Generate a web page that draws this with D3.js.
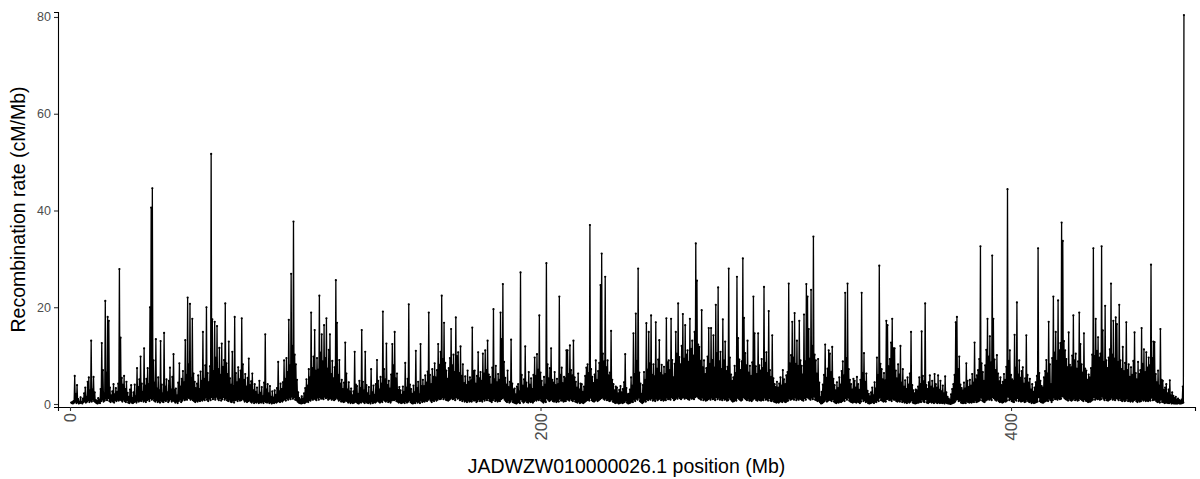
<!DOCTYPE html>
<html><head><meta charset="utf-8">
<script src="https://cdn.jsdelivr.net/npm/d3@7"></script>
<style>body{margin:0;background:#fff}svg{display:block}text{font-family:"Liberation Sans",Arial,Helvetica,sans-serif}</style>
</head><body><svg id="chart" width="1200" height="479"></svg>
<script>
const positionsMb = [
0.5,0.75,1,1.25,1.5,1.75,2,2.25,2.5,2.75,3,3.25,3.5,3.75,4,4.25,4.5,4.75,5,5.25,5.5,5.75,6,6.25,6.5,6.75,7,7.25,7.5,7.75,8,8.25,8.5,8.75,9,9.25,9.5,9.75,10,10.25,
10.5,10.75,11,11.25,11.5,11.75,12,12.25,12.5,12.75,13,13.25,13.5,13.75,14,14.25,14.5,14.75,15,15.25,15.5,15.75,16,16.25,16.5,16.75,17,17.25,17.5,17.75,18,18.25,18.5,18.75,19,19.25,19.5,19.75,20,20.25,
20.5,20.75,21,21.25,21.5,21.75,22,22.25,22.5,22.75,23,23.25,23.5,23.75,24,24.25,24.5,24.75,25,25.25,25.5,25.75,26,26.25,26.5,26.75,27,27.25,27.5,27.75,28,28.25,28.5,28.75,29,29.25,29.5,29.75,30,30.25,
30.5,30.75,31,31.25,31.5,31.75,32,32.25,32.5,32.75,33,33.25,33.5,33.75,34,34.25,34.5,34.75,35,35.25,35.5,35.75,36,36.25,36.5,36.75,37,37.25,37.5,37.75,38,38.25,38.5,38.75,39,39.25,39.5,39.75,40,40.25,
40.5,40.75,41,41.25,41.5,41.75,42,42.25,42.5,42.75,43,43.25,43.5,43.75,44,44.25,44.5,44.75,45,45.25,45.5,45.75,46,46.25,46.5,46.75,47,47.25,47.5,47.75,48,48.25,48.5,48.75,49,49.25,49.5,49.75,50,50.25,
50.5,50.75,51,51.25,51.5,51.75,52,52.25,52.5,52.75,53,53.25,53.5,53.75,54,54.25,54.5,54.75,55,55.25,55.5,55.75,56,56.25,56.5,56.75,57,57.25,57.5,57.75,58,58.25,58.5,58.75,59,59.25,59.5,59.75,60,60.25,
60.5,60.75,61,61.25,61.5,61.75,62,62.25,62.5,62.75,63,63.25,63.5,63.75,64,64.25,64.5,64.75,65,65.25,65.5,65.75,66,66.25,66.5,66.75,67,67.25,67.5,67.75,68,68.25,68.5,68.75,69,69.25,69.5,69.75,70,70.25,
70.5,70.75,71,71.25,71.5,71.75,72,72.25,72.5,72.75,73,73.25,73.5,73.75,74,74.25,74.5,74.75,75,75.25,75.5,75.75,76,76.25,76.5,76.75,77,77.25,77.5,77.75,78,78.25,78.5,78.75,79,79.25,79.5,79.75,80,80.25,
80.5,80.75,81,81.25,81.5,81.75,82,82.25,82.5,82.75,83,83.25,83.5,83.75,84,84.25,84.5,84.75,85,85.25,85.5,85.75,86,86.25,86.5,86.75,87,87.25,87.5,87.75,88,88.25,88.5,88.75,89,89.25,89.5,89.75,90,90.25,
90.5,90.75,91,91.25,91.5,91.75,92,92.25,92.5,92.75,93,93.25,93.5,93.75,94,94.25,94.5,94.75,95,95.25,95.5,95.75,96,96.25,96.5,96.75,97,97.25,97.5,97.75,98,98.25,98.5,98.75,99,99.25,99.5,99.75,100,100.25,
100.5,100.75,101,101.25,101.5,101.75,102,102.25,102.5,102.75,103,103.25,103.5,103.75,104,104.25,104.5,104.75,105,105.25,105.5,105.75,106,106.25,106.5,106.75,107,107.25,107.5,107.75,108,108.25,108.5,108.75,109,109.25,109.5,109.75,110,110.25,
110.5,110.75,111,111.25,111.5,111.75,112,112.25,112.5,112.75,113,113.25,113.5,113.75,114,114.25,114.5,114.75,115,115.25,115.5,115.75,116,116.25,116.5,116.75,117,117.25,117.5,117.75,118,118.25,118.5,118.75,119,119.25,119.5,119.75,120,120.25,
120.5,120.75,121,121.25,121.5,121.75,122,122.25,122.5,122.75,123,123.25,123.5,123.75,124,124.25,124.5,124.75,125,125.25,125.5,125.75,126,126.25,126.5,126.75,127,127.25,127.5,127.75,128,128.25,128.5,128.75,129,129.25,129.5,129.75,130,130.25,
130.5,130.75,131,131.25,131.5,131.75,132,132.25,132.5,132.75,133,133.25,133.5,133.75,134,134.25,134.5,134.75,135,135.25,135.5,135.75,136,136.25,136.5,136.75,137,137.25,137.5,137.75,138,138.25,138.5,138.75,139,139.25,139.5,139.75,140,140.25,
140.5,140.75,141,141.25,141.5,141.75,142,142.25,142.5,142.75,143,143.25,143.5,143.75,144,144.25,144.5,144.75,145,145.25,145.5,145.75,146,146.25,146.5,146.75,147,147.25,147.5,147.75,148,148.25,148.5,148.75,149,149.25,149.5,149.75,150,150.25,
150.5,150.75,151,151.25,151.5,151.75,152,152.25,152.5,152.75,153,153.25,153.5,153.75,154,154.25,154.5,154.75,155,155.25,155.5,155.75,156,156.25,156.5,156.75,157,157.25,157.5,157.75,158,158.25,158.5,158.75,159,159.25,159.5,159.75,160,160.25,
160.5,160.75,161,161.25,161.5,161.75,162,162.25,162.5,162.75,163,163.25,163.5,163.75,164,164.25,164.5,164.75,165,165.25,165.5,165.75,166,166.25,166.5,166.75,167,167.25,167.5,167.75,168,168.25,168.5,168.75,169,169.25,169.5,169.75,170,170.25,
170.5,170.75,171,171.25,171.5,171.75,172,172.25,172.5,172.75,173,173.25,173.5,173.75,174,174.25,174.5,174.75,175,175.25,175.5,175.75,176,176.25,176.5,176.75,177,177.25,177.5,177.75,178,178.25,178.5,178.75,179,179.25,179.5,179.75,180,180.25,
180.5,180.75,181,181.25,181.5,181.75,182,182.25,182.5,182.75,183,183.25,183.5,183.75,184,184.25,184.5,184.75,185,185.25,185.5,185.75,186,186.25,186.5,186.75,187,187.25,187.5,187.75,188,188.25,188.5,188.75,189,189.25,189.5,189.75,190,190.25,
190.5,190.75,191,191.25,191.5,191.75,192,192.25,192.5,192.75,193,193.25,193.5,193.75,194,194.25,194.5,194.75,195,195.25,195.5,195.75,196,196.25,196.5,196.75,197,197.25,197.5,197.75,198,198.25,198.5,198.75,199,199.25,199.5,199.75,200,200.25,
200.5,200.75,201,201.25,201.5,201.75,202,202.25,202.5,202.75,203,203.25,203.5,203.75,204,204.25,204.5,204.75,205,205.25,205.5,205.75,206,206.25,206.5,206.75,207,207.25,207.5,207.75,208,208.25,208.5,208.75,209,209.25,209.5,209.75,210,210.25,
210.5,210.75,211,211.25,211.5,211.75,212,212.25,212.5,212.75,213,213.25,213.5,213.75,214,214.25,214.5,214.75,215,215.25,215.5,215.75,216,216.25,216.5,216.75,217,217.25,217.5,217.75,218,218.25,218.5,218.75,219,219.25,219.5,219.75,220,220.25,
220.5,220.75,221,221.25,221.5,221.75,222,222.25,222.5,222.75,223,223.25,223.5,223.75,224,224.25,224.5,224.75,225,225.25,225.5,225.75,226,226.25,226.5,226.75,227,227.25,227.5,227.75,228,228.25,228.5,228.75,229,229.25,229.5,229.75,230,230.25,
230.5,230.75,231,231.25,231.5,231.75,232,232.25,232.5,232.75,233,233.25,233.5,233.75,234,234.25,234.5,234.75,235,235.25,235.5,235.75,236,236.25,236.5,236.75,237,237.25,237.5,237.75,238,238.25,238.5,238.75,239,239.25,239.5,239.75,240,240.25,
240.5,240.75,241,241.25,241.5,241.75,242,242.25,242.5,242.75,243,243.25,243.5,243.75,244,244.25,244.5,244.75,245,245.25,245.5,245.75,246,246.25,246.5,246.75,247,247.25,247.5,247.75,248,248.25,248.5,248.75,249,249.25,249.5,249.75,250,250.25,
250.5,250.75,251,251.25,251.5,251.75,252,252.25,252.5,252.75,253,253.25,253.5,253.75,254,254.25,254.5,254.75,255,255.25,255.5,255.75,256,256.25,256.5,256.75,257,257.25,257.5,257.75,258,258.25,258.5,258.75,259,259.25,259.5,259.75,260,260.25,
260.5,260.75,261,261.25,261.5,261.75,262,262.25,262.5,262.75,263,263.25,263.5,263.75,264,264.25,264.5,264.75,265,265.25,265.5,265.75,266,266.25,266.5,266.75,267,267.25,267.5,267.75,268,268.25,268.5,268.75,269,269.25,269.5,269.75,270,270.25,
270.5,270.75,271,271.25,271.5,271.75,272,272.25,272.5,272.75,273,273.25,273.5,273.75,274,274.25,274.5,274.75,275,275.25,275.5,275.75,276,276.25,276.5,276.75,277,277.25,277.5,277.75,278,278.25,278.5,278.75,279,279.25,279.5,279.75,280,280.25,
280.5,280.75,281,281.25,281.5,281.75,282,282.25,282.5,282.75,283,283.25,283.5,283.75,284,284.25,284.5,284.75,285,285.25,285.5,285.75,286,286.25,286.5,286.75,287,287.25,287.5,287.75,288,288.25,288.5,288.75,289,289.25,289.5,289.75,290,290.25,
290.5,290.75,291,291.25,291.5,291.75,292,292.25,292.5,292.75,293,293.25,293.5,293.75,294,294.25,294.5,294.75,295,295.25,295.5,295.75,296,296.25,296.5,296.75,297,297.25,297.5,297.75,298,298.25,298.5,298.75,299,299.25,299.5,299.75,300,300.25,
300.5,300.75,301,301.25,301.5,301.75,302,302.25,302.5,302.75,303,303.25,303.5,303.75,304,304.25,304.5,304.75,305,305.25,305.5,305.75,306,306.25,306.5,306.75,307,307.25,307.5,307.75,308,308.25,308.5,308.75,309,309.25,309.5,309.75,310,310.25,
310.5,310.75,311,311.25,311.5,311.75,312,312.25,312.5,312.75,313,313.25,313.5,313.75,314,314.25,314.5,314.75,315,315.25,315.5,315.75,316,316.25,316.5,316.75,317,317.25,317.5,317.75,318,318.25,318.5,318.75,319,319.25,319.5,319.75,320,320.25,
320.5,320.75,321,321.25,321.5,321.75,322,322.25,322.5,322.75,323,323.25,323.5,323.75,324,324.25,324.5,324.75,325,325.25,325.5,325.75,326,326.25,326.5,326.75,327,327.25,327.5,327.75,328,328.25,328.5,328.75,329,329.25,329.5,329.75,330,330.25,
330.5,330.75,331,331.25,331.5,331.75,332,332.25,332.5,332.75,333,333.25,333.5,333.75,334,334.25,334.5,334.75,335,335.25,335.5,335.75,336,336.25,336.5,336.75,337,337.25,337.5,337.75,338,338.25,338.5,338.75,339,339.25,339.5,339.75,340,340.25,
340.5,340.75,341,341.25,341.5,341.75,342,342.25,342.5,342.75,343,343.25,343.5,343.75,344,344.25,344.5,344.75,345,345.25,345.5,345.75,346,346.25,346.5,346.75,347,347.25,347.5,347.75,348,348.25,348.5,348.75,349,349.25,349.5,349.75,350,350.25,
350.5,350.75,351,351.25,351.5,351.75,352,352.25,352.5,352.75,353,353.25,353.5,353.75,354,354.25,354.5,354.75,355,355.25,355.5,355.75,356,356.25,356.5,356.75,357,357.25,357.5,357.75,358,358.25,358.5,358.75,359,359.25,359.5,359.75,360,360.25,
360.5,360.75,361,361.25,361.5,361.75,362,362.25,362.5,362.75,363,363.25,363.5,363.75,364,364.25,364.5,364.75,365,365.25,365.5,365.75,366,366.25,366.5,366.75,367,367.25,367.5,367.75,368,368.25,368.5,368.75,369,369.25,369.5,369.75,370,370.25,
370.5,370.75,371,371.25,371.5,371.75,372,372.25,372.5,372.75,373,373.25,373.5,373.75,374,374.25,374.5,374.75,375,375.25,375.5,375.75,376,376.25,376.5,376.75,377,377.25,377.5,377.75,378,378.25,378.5,378.75,379,379.25,379.5,379.75,380,380.25,
380.5,380.75,381,381.25,381.5,381.75,382,382.25,382.5,382.75,383,383.25,383.5,383.75,384,384.25,384.5,384.75,385,385.25,385.5,385.75,386,386.25,386.5,386.75,387,387.25,387.5,387.75,388,388.25,388.5,388.75,389,389.25,389.5,389.75,390,390.25,
390.5,390.75,391,391.25,391.5,391.75,392,392.25,392.5,392.75,393,393.25,393.5,393.75,394,394.25,394.5,394.75,395,395.25,395.5,395.75,396,396.25,396.5,396.75,397,397.25,397.5,397.75,398,398.25,398.5,398.75,399,399.25,399.5,399.75,400,400.25,
400.5,400.75,401,401.25,401.5,401.75,402,402.25,402.5,402.75,403,403.25,403.5,403.75,404,404.25,404.5,404.75,405,405.25,405.5,405.75,406,406.25,406.5,406.75,407,407.25,407.5,407.75,408,408.25,408.5,408.75,409,409.25,409.5,409.75,410,410.25,
410.5,410.75,411,411.25,411.5,411.75,412,412.25,412.5,412.75,413,413.25,413.5,413.75,414,414.25,414.5,414.75,415,415.25,415.5,415.75,416,416.25,416.5,416.75,417,417.25,417.5,417.75,418,418.25,418.5,418.75,419,419.25,419.5,419.75,420,420.25,
420.5,420.75,421,421.25,421.5,421.75,422,422.25,422.5,422.75,423,423.25,423.5,423.75,424,424.25,424.5,424.75,425,425.25,425.5,425.75,426,426.25,426.5,426.75,427,427.25,427.5,427.75,428,428.25,428.5,428.75,429,429.25,429.5,429.75,430,430.25,
430.5,430.75,431,431.25,431.5,431.75,432,432.25,432.5,432.75,433,433.25,433.5,433.75,434,434.25,434.5,434.75,435,435.25,435.5,435.75,436,436.25,436.5,436.75,437,437.25,437.5,437.75,438,438.25,438.5,438.75,439,439.25,439.5,439.75,440,440.25,
440.5,440.75,441,441.25,441.5,441.75,442,442.25,442.5,442.75,443,443.25,443.5,443.75,444,444.25,444.5,444.75,445,445.25,445.5,445.75,446,446.25,446.5,446.75,447,447.25,447.5,447.75,448,448.25,448.5,448.75,449,449.25,449.5,449.75,450,450.25,
450.5,450.75,451,451.25,451.5,451.75,452,452.25,452.5,452.75,453,453.25,453.5,453.75,454,454.25,454.5,454.75,455,455.25,455.5,455.75,456,456.25,456.5,456.75,457,457.25,457.5,457.75,458,458.25,458.5,458.75,459,459.25,459.5,459.75,460,460.25,
460.5,460.75,461,461.25,461.5,461.75,462,462.25,462.5,462.75,463,463.25,463.5,463.75,464,464.25,464.5,464.75,465,465.25,465.5,465.75,466,466.25,466.5,466.75,467,467.25,467.5,467.75,468,468.25,468.5,468.75,469,469.25,469.5,469.75,470,470.25,
470.5,470.75,471,471.25,471.5,471.75,472,472.25,472.5,472.75,473,473.25,473.5
];
const recombRate = [
0.3,0.2,0.4,0.1,0.6,0.3,5.8,0.5,2.1,0.2,3.9,0.4,1.0,0.1,0.5,0.2,1.4,0.3,0.4,0.1,1.1,0.4,2.2,0.6,3.4,0.3,1.5,0.5,4.6,0.8,5.5,0.4,2.8,0.7,13.1,0.5,3.0,0.9,5.6,0.6,
2.4,0.4,0.8,0.2,0.6,0.1,1.2,0.3,0.9,0.2,3.1,0.6,12.6,0.9,7.0,0.5,2.2,0.7,21.3,1.1,6.5,0.8,18.0,1.2,17.2,0.6,3.4,0.4,1.8,0.7,2.6,0.5,4.1,0.3,2.0,0.8,3.3,0.6,2.5,0.9,
4.2,0.7,27.9,1.0,13.7,0.8,5.4,0.5,4.0,0.9,5.8,0.6,3.1,0.4,4.6,0.8,2.3,0.3,1.5,0.2,3.0,0.5,3.9,0.3,1.2,0.2,2.4,0.4,4.0,0.6,1.6,0.3,7.4,0.7,3.5,0.5,5.1,0.8,9.8,0.6,
4.2,0.9,2.5,0.5,11.5,0.7,3.8,0.4,5.2,0.8,7.4,1.0,4.1,0.6,20.0,1.2,40.6,0.9,44.6,1.1,9.0,0.7,4.4,0.5,13.4,0.8,3.2,0.4,5.5,0.6,2.8,0.3,13.0,0.7,4.0,0.5,2.2,0.4,14.7,0.8,
3.6,0.6,5.1,0.9,2.4,0.4,4.8,0.7,7.5,1.0,3.0,0.5,5.6,0.8,10.3,0.6,2.9,0.3,3.2,0.5,1.8,0.2,4.4,0.6,8.4,0.9,3.6,0.4,5.2,0.7,6.8,1.1,4.5,0.8,13.2,1.0,6.0,0.9,22.0,1.3,
8.2,1.2,20.7,0.9,5.4,1.1,17.6,0.8,6.3,0.6,4.6,0.4,3.3,0.7,4.2,0.5,5.9,0.8,3.1,0.6,6.7,0.9,4.8,0.7,14.9,1.0,5.2,0.8,8.0,1.3,20.0,0.9,6.4,0.6,4.5,1.1,7.8,0.8,51.7,1.4,
17.5,1.0,6.8,1.3,17.0,0.9,9.6,1.5,16.1,1.1,7.2,0.8,11.6,1.2,6.0,0.7,12.5,1.0,7.7,1.4,9.1,0.9,20.8,1.2,8.4,0.8,6.2,0.6,12.9,0.9,5.3,0.5,4.0,0.4,10.8,0.7,3.7,0.3,18.0,0.8,
6.4,0.9,4.5,0.6,7.6,1.0,5.1,0.7,6.9,0.8,17.7,1.1,8.2,0.9,5.0,0.5,6.2,0.7,3.6,0.4,5.4,0.6,9.4,0.8,3.9,0.5,4.7,0.3,6.3,0.6,2.8,0.2,4.1,0.4,2.5,0.3,3.4,0.5,1.9,0.2,
4.8,0.4,2.3,0.3,3.5,0.5,1.6,0.2,4.4,0.6,14.4,0.4,3.0,0.3,4.1,0.5,2.2,0.2,3.7,0.4,1.5,0.1,2.6,0.3,1.3,0.2,2.8,0.4,1.9,0.3,3.3,0.5,8.7,0.6,2.6,0.4,4.2,0.7,3.1,0.5,
4.5,0.8,9.0,1.0,5.2,0.7,9.5,1.2,6.6,0.9,17.4,1.3,8.0,1.0,26.9,1.5,12.0,1.1,37.7,1.4,10.2,0.9,8.2,0.8,5.0,0.5,2.4,0.3,1.2,0.2,0.9,0.1,1.6,0.2,1.1,0.3,2.2,0.2,3.3,0.4,
5.1,0.6,3.8,0.4,7.2,0.8,5.5,0.7,18.9,1.1,7.4,0.9,9.8,1.2,15.3,1.0,6.9,0.8,9.5,1.3,7.1,0.9,22.4,1.4,10.6,1.1,14.4,1.2,8.8,1.0,16.3,1.5,9.5,1.2,17.7,1.3,7.3,0.9,11.2,1.1,
14.4,1.2,6.2,0.9,8.9,1.1,5.3,0.8,7.6,1.0,25.6,1.3,16.8,1.1,6.0,0.7,9.1,0.9,4.2,0.5,5.0,0.6,3.1,0.4,4.4,0.5,12.7,0.8,6.3,0.6,3.0,0.3,4.5,0.5,2.6,0.2,3.2,0.4,1.8,0.2,
2.6,0.3,10.8,0.5,4.0,0.4,3.7,0.2,2.1,0.1,4.8,0.4,3.3,0.3,15.3,0.6,4.6,0.4,2.8,0.2,10.8,0.5,3.9,0.3,2.2,0.2,3.5,0.4,1.7,0.1,7.2,0.5,2.4,0.2,3.8,0.4,1.9,0.3,4.1,0.5,
9.1,0.7,4.8,0.5,3.0,0.3,5.6,0.6,4.2,0.4,19.1,0.9,7.2,0.7,5.1,0.5,12.5,0.8,3.9,0.4,4.8,0.6,3.2,0.3,6.1,0.7,12.4,0.9,8.0,0.8,14.9,1.0,5.3,0.6,6.3,0.5,2.9,0.3,3.5,0.4,
2.8,0.2,1.9,0.3,3.6,0.4,2.5,0.2,8.5,0.6,3.4,0.3,5.2,0.5,20.6,0.8,4.0,0.4,3.1,0.2,2.1,0.1,3.8,0.3,2.4,0.2,11.0,0.6,3.3,0.3,4.6,0.5,2.0,0.2,12.4,0.7,3.7,0.4,5.0,0.6,
3.7,0.5,5.9,0.8,4.4,0.6,6.7,0.9,18.9,1.1,6.0,0.7,4.1,0.4,7.2,0.8,5.6,0.6,8.4,1.0,5.5,0.7,7.0,0.9,12.4,1.2,8.1,1.0,10.8,1.1,22.4,1.4,9.3,1.0,16.8,1.3,8.5,0.9,6.9,0.8,
5.2,0.7,7.4,0.9,9.5,1.1,15.5,1.3,8.0,1.0,10.2,1.2,6.6,0.8,17.9,1.4,9.9,1.1,10.7,1.2,6.4,0.8,11.9,1.0,5.8,0.6,8.2,0.9,4.3,0.5,5.7,0.7,3.9,0.4,6.9,0.8,4.6,0.5,5.5,0.6,
4.9,0.5,15.8,0.9,6.8,0.7,6.9,0.8,4.2,0.4,5.8,0.6,10.7,1.0,5.3,0.6,6.6,0.8,4.8,0.5,10.4,1.0,6.3,0.7,11.1,1.1,7.0,0.8,13.1,1.2,6.1,0.7,5.6,0.6,4.0,0.4,7.5,0.8,19.6,1.1,
5.1,0.6,7.9,0.8,4.5,0.5,6.2,0.7,5.0,0.6,18.9,1.0,13.4,1.2,24.8,1.3,8.7,0.9,5.4,0.6,4.0,0.4,6.9,0.7,3.5,0.3,4.6,0.5,13.3,0.9,4.2,0.4,3.0,0.3,3.2,0.2,2.0,0.1,3.6,0.3,
4.1,0.4,2.6,0.2,27.2,1.0,6.0,0.6,3.8,0.3,5.1,0.5,11.9,0.8,4.4,0.4,3.2,0.3,6.6,0.6,4.0,0.4,5.3,0.5,3.1,0.3,6.0,0.6,9.6,0.9,5.8,0.7,10.3,1.0,7.1,0.8,18.3,1.1,6.5,0.7,
4.8,0.5,3.5,0.3,5.6,0.6,4.0,0.4,29.1,1.2,8.2,0.9,5.3,0.6,7.4,0.8,11.5,1.0,5.0,0.6,4.4,0.5,6.6,0.7,3.9,0.4,5.2,0.6,4.1,0.5,22.2,1.1,6.0,0.7,7.5,0.8,4.3,0.5,5.6,0.6,
5.3,0.6,11.1,1.0,11.1,0.9,6.2,0.7,12.1,1.1,7.0,0.8,5.9,0.6,13.1,1.0,5.5,0.5,4.6,0.4,3.4,0.3,6.3,0.6,3.0,0.2,4.2,0.4,4.1,0.3,2.5,0.2,3.6,0.4,5.8,0.6,7.5,0.8,8.2,0.9,
6.4,0.7,37.0,1.3,7.2,0.8,5.6,0.6,4.3,0.5,6.1,0.7,9.0,0.9,5.0,0.6,6.8,0.8,8.5,1.0,24.6,1.2,31.1,1.4,10.4,1.1,8.8,0.9,26.3,1.2,7.6,0.8,9.0,0.9,5.9,0.6,6.5,0.7,15.1,1.0,
5.0,0.5,4.1,0.4,2.8,0.2,3.6,0.3,3.4,0.3,2.2,0.1,2.9,0.2,3.7,0.4,2.4,0.2,3.1,0.3,4.5,0.4,10.3,0.7,3.3,0.3,2.0,0.1,2.1,0.2,3.0,0.3,5.5,0.5,3.8,0.4,14.6,0.9,6.2,0.6,
18.7,1.1,8.9,0.9,28.0,1.3,6.5,0.6,4.2,0.4,2.1,0.2,3.9,0.4,6.6,0.7,5.0,0.5,16.7,1.0,7.1,0.8,14.9,1.1,8.4,0.9,18.3,1.2,6.0,0.7,8.2,0.9,5.7,0.6,16.9,1.1,7.3,0.8,9.2,1.0,
13.2,1.2,6.4,0.8,8.1,1.0,5.9,0.7,7.7,0.9,6.2,0.8,17.7,1.3,8.6,1.0,9.0,1.1,7.0,0.9,17.6,1.4,9.1,1.2,5.5,0.8,8.3,1.0,14.9,1.3,10.4,1.1,20.8,1.5,9.7,1.2,8.2,1.0,12.0,1.3,
18.6,1.4,9.4,1.1,16.3,1.3,10.2,1.2,11.1,1.0,8.7,0.9,17.6,1.3,11.4,1.1,13.1,1.2,10.0,1.0,14.9,1.4,33.2,1.6,25.5,1.5,12.3,1.2,11.8,1.1,8.9,0.9,19.4,1.3,7.6,0.8,9.0,1.0,6.2,0.7,
7.4,0.8,9.8,1.0,15.7,1.2,8.3,0.9,15.7,1.3,9.1,1.0,14.2,1.1,7.5,0.8,20.5,1.4,10.5,1.0,24.1,1.3,8.8,0.9,10.8,1.1,7.2,0.8,17.5,1.2,9.0,0.9,12.9,1.0,6.8,0.7,7.7,0.8,28.0,1.3,
9.6,1.0,6.1,0.7,4.8,0.5,5.5,0.6,7.9,0.8,6.4,0.7,26.3,1.3,13.6,1.1,9.2,0.9,7.0,0.7,8.8,0.9,30.1,1.4,17.8,1.2,10.5,1.0,8.0,0.8,13.1,1.1,6.5,0.7,7.9,0.8,5.8,0.6,8.6,0.9,
22.2,1.2,14.6,1.1,7.8,0.8,6.2,0.7,14.6,1.0,8.0,0.8,6.9,0.7,9.3,0.9,7.4,0.8,24.2,1.3,8.5,0.9,10.7,1.0,6.4,0.7,19.2,1.2,7.0,0.7,5.6,0.6,14.2,0.9,5.3,0.5,4.1,0.4,3.5,0.3,
4.6,0.4,3.4,0.3,4.2,0.5,5.5,0.6,3.8,0.4,7.0,0.7,5.1,0.5,4.1,0.4,5.9,0.6,6.6,0.7,24.9,1.2,8.4,0.9,10.1,1.0,17.0,1.2,9.6,0.9,18.8,1.3,8.3,0.8,13.1,1.1,7.9,0.9,17.2,1.2,
9.0,1.0,7.9,0.8,6.1,0.7,18.5,1.2,8.8,0.9,24.8,1.4,22.2,1.3,15.5,1.1,9.4,0.9,23.6,1.3,12.0,1.0,34.6,1.5,10.2,0.9,9.0,0.8,6.3,0.6,9.3,0.7,4.4,0.4,1.4,0.1,2.5,0.2,4.0,0.4,
6.0,0.6,12.3,0.9,5.4,0.5,7.3,0.7,11.1,0.9,10.4,0.8,6.6,0.6,11.8,1.0,5.2,0.5,3.9,0.3,2.8,0.2,4.5,0.4,3.3,0.3,5.5,0.5,4.0,0.4,6.8,0.6,8.8,0.8,5.9,0.6,23.0,1.2,9.5,0.9,
24.9,1.3,7.2,0.7,5.0,0.5,4.1,0.4,3.0,0.3,5.2,0.5,4.8,0.4,3.4,0.3,5.6,0.5,4.1,0.4,2.9,0.2,5.0,0.5,23.0,1.1,6.4,0.6,10.5,0.8,4.6,0.4,6.3,0.5,2.7,0.2,2.1,0.1,1.6,0.2,
2.4,0.3,3.4,0.4,1.8,0.2,4.5,0.5,3.2,0.4,9.6,0.8,6.0,0.6,28.6,1.3,8.3,0.8,7.2,0.7,5.1,0.5,6.4,0.6,4.9,0.5,17.2,1.0,16.3,1.1,7.8,0.8,9.3,0.9,12.7,0.6,17.6,1.1,11.5,0.9,
11.5,0.9,6.9,0.6,5.3,0.5,8.2,0.7,6.1,0.5,12.0,0.9,4.4,0.4,7.2,0.6,3.6,0.3,4.9,0.4,3.1,0.2,5.5,0.5,4.0,0.3,6.3,0.5,14.9,0.8,3.9,0.3,2.8,0.2,2.2,0.1,3.0,0.2,2.8,0.3,
3.6,0.3,5.5,0.5,4.1,0.4,15.0,0.9,5.8,0.5,4.7,0.4,20.8,1.0,3.9,0.3,3.1,0.2,4.5,0.4,5.9,0.5,3.6,0.3,4.8,0.4,3.2,0.2,6.2,0.5,4.1,0.3,3.4,0.2,5.9,0.4,2.9,0.2,4.8,0.3,
2.6,0.2,3.8,0.3,2.2,0.1,5.7,0.4,2.4,0.2,1.5,0.1,1.1,0.1,0.8,0.0,2.0,0.1,3.1,0.2,4.1,0.3,6.0,0.5,16.9,0.9,18.0,1.0,7.2,0.6,9.8,0.7,4.0,0.3,3.3,0.2,2.8,0.2,4.4,0.3,
3.2,0.2,8.4,0.6,4.8,0.4,3.5,0.3,5.0,0.4,3.8,0.3,6.2,0.5,4.4,0.4,12.7,0.8,5.1,0.4,5.9,0.5,7.0,0.6,9.3,0.8,32.6,1.3,8.4,0.7,6.6,0.5,4.8,0.4,8.0,0.7,11.2,0.9,17.6,1.1,
9.8,0.9,14.0,1.1,8.6,0.8,30.7,1.4,17.6,1.2,9.2,0.9,7.0,0.7,10.1,0.9,6.3,0.6,4.7,0.4,5.5,0.5,3.9,0.3,4.6,0.4,6.2,0.6,5.0,0.5,7.7,0.7,44.4,1.5,8.9,0.8,11.1,1.0,6.0,0.6,
5.1,0.5,4.8,0.4,14.3,0.9,7.5,0.7,21.0,1.2,6.1,0.6,9.0,0.8,5.4,0.5,6.8,0.6,7.6,0.7,4.2,0.4,5.3,0.5,14.2,0.9,6.0,0.6,4.4,0.4,5.2,0.5,3.0,0.2,4.1,0.4,2.5,0.2,3.4,0.3,
4.5,0.4,5.8,0.5,32.2,1.4,6.4,0.6,4.8,0.4,3.7,0.3,3.4,0.3,5.5,0.5,6.8,0.6,9.1,0.8,6.3,0.6,17.0,1.1,8.2,0.8,4.1,0.4,9.5,0.8,22.2,1.3,10.6,1.0,14.9,1.1,8.9,0.9,21.4,1.2,
11.1,1.0,12.6,1.1,37.5,1.6,33.7,1.5,13.0,1.2,11.1,1.0,9.3,0.9,7.6,0.7,14.8,1.1,8.1,0.8,7.6,0.7,10.0,0.9,18.3,1.2,9.0,0.8,10.4,1.0,7.3,0.7,8.8,0.8,18.9,1.2,12.4,1.0,8.2,0.8,
6.5,0.6,14.6,1.0,7.3,0.7,6.9,0.6,5.0,0.4,6.1,0.5,5.5,0.5,7.4,0.7,10.2,0.9,32.2,1.4,9.9,0.9,17.6,1.2,11.0,1.0,13.8,1.1,9.6,0.9,10.4,1.0,32.6,1.5,15.2,1.1,8.7,0.8,20.3,1.2,
9.0,0.8,7.4,0.7,9.6,0.9,11.3,1.0,24.9,1.3,10.2,0.9,17.2,1.1,9.4,0.8,17.9,1.2,16.5,1.1,8.7,0.8,20.5,1.2,9.0,0.8,7.2,0.6,11.8,0.9,6.8,0.6,8.5,0.7,16.9,1.1,7.0,0.6,8.2,0.7,
5.6,0.5,7.6,0.7,6.0,0.5,8.9,0.8,14.8,1.0,6.4,0.6,5.1,0.4,8.7,0.7,6.2,0.5,7.0,0.6,15.7,1.0,8.3,0.7,11.3,0.9,6.6,0.6,10.7,0.8,7.5,0.6,9.6,0.8,8.0,0.7,28.8,1.3,9.5,0.8,
12.9,0.9,12.8,0.9,6.2,0.6,4.5,0.4,6.9,0.5,3.8,0.3,15.5,0.9,5.0,0.4,4.8,0.4,2.9,0.2,3.4,0.3,4.1,0.3,2.2,0.2,3.0,0.2,4.9,0.4,1.8,0.1,2.4,0.2,1.7,0.1,1.2,0.1,1.5,0.1,
0.9,0.1,1.1,0.2,0.8,0.1,0.6,0.1,0.9,0.2,3.6,0.3,80.4
];
const xTickValues = [0, 200, 400];
const yTickValues = [0, 20, 40, 60, 80];
const xTitle = "JADWZW010000026.1 position (Mb)";
const yTitle = "Recombination rate (cM/Mb)";

const svg = d3.select("#chart");
const panel = {left: 58, right: 1195, top: 12, bottom: 407};
const x = d3.scaleLinear().domain([-5.1, 478.2]).range([panel.left, panel.right]);
const y = d3.scaleLinear().domain([-0.62, 81.03]).range([panel.bottom, panel.top]);

const data = positionsMb.map((p, i) => ({p: p, r: recombRate[i]})).filter(d => d.r != null);

svg.append("path")
  .datum(data)
  .attr("fill", "none")
  .attr("stroke", "#000")
  .attr("stroke-width", 1.3)
  .attr("stroke-linejoin", "round")
  .attr("d", d3.line().x(d => x(d.p)).y(d => y(d.r)));

svg.append("g").selectAll("circle").data(data).join("circle")
  .attr("cx", d => x(d.p)).attr("cy", d => y(d.r)).attr("r", 1.1).attr("fill", "#000");

// axes
const gx = svg.append("g").attr("transform", `translate(0,${panel.bottom})`)
  .call(d3.axisBottom(x).tickValues(xTickValues).tickSizeOuter(0).tickSize(4).tickFormat(d3.format("d")));
gx.select(".domain").attr("stroke", "#000").attr("stroke-width", 1.1);
gx.selectAll(".tick line").attr("stroke", "#333").attr("stroke-width", 1.1);
gx.selectAll(".tick text")
  .attr("transform", "rotate(-90)")
  .attr("x", -6).attr("y", 0).attr("dy", "0.36em")
  .attr("text-anchor", "end")
  .attr("fill", "#4d4d4d")
  .style("font-size", "16.5px");

const gy = svg.append("g").attr("transform", `translate(${panel.left},0)`)
  .call(d3.axisLeft(y).tickValues(yTickValues).tickSizeOuter(0).tickSize(4).tickPadding(3));
gy.select(".domain").attr("stroke", "#000").attr("stroke-width", 1.1);
gy.selectAll(".tick line").attr("stroke", "#333").attr("stroke-width", 1.1);
gy.selectAll(".tick text").attr("fill", "#4d4d4d").style("font-size", "12.5px");

svg.append("text")
  .attr("x", (panel.left + panel.right) / 2).attr("y", 473)
  .attr("text-anchor", "middle").attr("fill", "#000")
  .style("font-size", "19.5px").text(xTitle);

svg.append("text")
  .attr("transform", `translate(25,${(panel.top + panel.bottom) / 2}) rotate(-90)`)
  .attr("text-anchor", "middle").attr("fill", "#000")
  .style("font-size", "19.5px").text(yTitle);
</script>
</body></html>
